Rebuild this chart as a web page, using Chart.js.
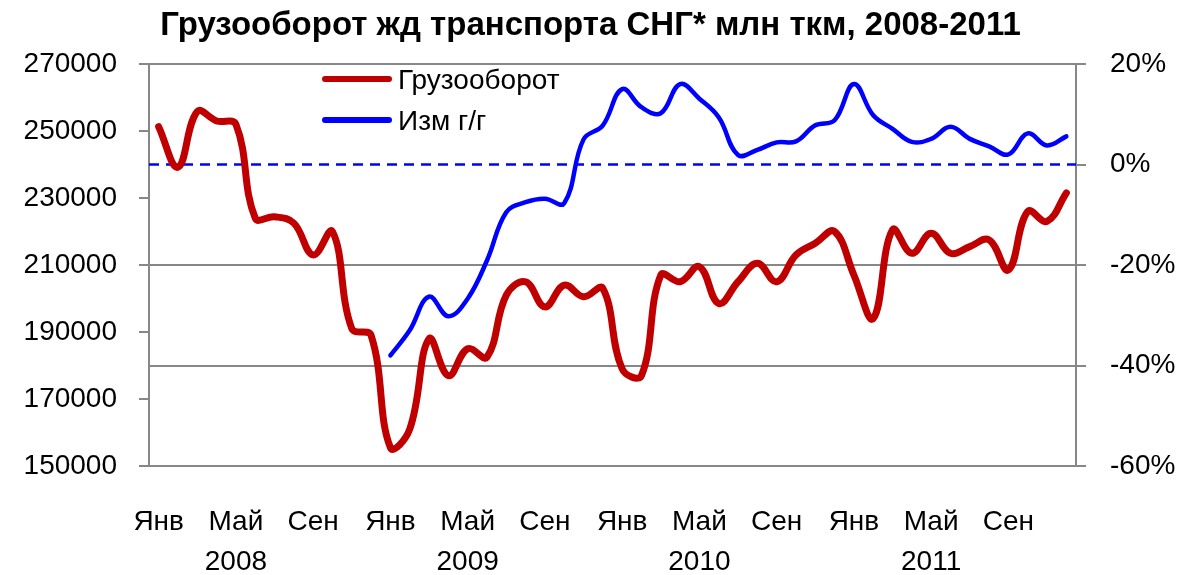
<!DOCTYPE html>
<html>
<head>
<meta charset="utf-8">
<script src="https://cdn.jsdelivr.net/npm/chart.js@4"></script>
<style>
  body { margin: 0; background: #fff; }
  #wrap { width: 1181px; height: 575px; }
</style>
</head>
<body>
<div id="wrap"><canvas id="myChart_Freight" width="1181" height="575"></canvas></div>
<script>
const monthNames = ["Янв", "Фев", "Мар", "Апр", "Май", "Июн", "Июл", "Авг", "Сен", "Окт", "Ноя", "Дек"]
const years = ["2008", "2009", "2010", "2011"]

// грузооборот, млн ткм (левая ось)
const freight = [
  251300, 239200, 255800, 253000, 252000, 224000, 224400, 222500, 213000, 220000, 191000, 189000,
  155500, 161000, 188000, 177000, 185000, 182500, 201000, 205000, 197500, 204000, 200500, 203000,
  179000, 177000, 207000, 205000, 209500, 198500, 205000, 210500, 205000, 213000, 216500, 220000,
  207000, 194000, 220500, 213500, 219500, 213500, 215500, 217500, 208500, 226000, 223000, 231500
]

// изменение г/г, % (правая ось)
const yoyChange = [
  null, null, null, null, null, null, null, null, null, null, null, null,
  -38, -33, -26.3, -30.2, -26.7, -19.1, -9.5, -7.5, -6.8, -7.7, 5, 7.8,
  15.0, 11.4, 10.2, 16.0, 13.1, 9.4, 1.9, 2.9, 4.4, 4.6, 7.8, 8.8,
  16.0, 9.8, 7.1, 4.5, 5.1, 7.5, 5.1, 3.6, 2.0, 6.2, 3.8, 5.6
]

const leftTicks = [150000, 170000, 190000, 210000, 230000, 250000, 270000]
const rightTicks = [-60, -40, -20, 0, 20]

const categories = years.flatMap(y => monthNames.map(m => m + " " + y))

const FONT = "'Liberation Sans', Arial, sans-serif"
const GRAY = "#878787"

const zeroLine = {
  id: "zeroLine",
  beforeDatasetsDraw(chart) {
    const { ctx, chartArea, scales } = chart
    const y = scales.y1.getPixelForValue(0)
    ctx.save()
    ctx.strokeStyle = "#0000ff"
    ctx.lineWidth = 2.5
    ctx.setLineDash([10, 7])
    ctx.beginPath()
    ctx.moveTo(chartArea.left, y)
    ctx.lineTo(chartArea.right, y)
    ctx.stroke()
    ctx.restore()
  }
}

// легенда внутри области построения
const innerLegend = {
  id: "innerLegend",
  afterDraw(chart) {
    const { ctx } = chart
    const rows = [79, 120]
    ctx.save()
    ctx.font = "28px " + FONT
    ctx.textBaseline = "middle"
    chart.data.datasets.forEach((ds, i) => {
      ctx.strokeStyle = ds.borderColor
      ctx.lineWidth = 6
      ctx.lineCap = "round"
      ctx.beginPath()
      ctx.moveTo(325, rows[i])
      ctx.lineTo(389, rows[i])
      ctx.stroke()
      ctx.fillStyle = "#000"
      ctx.fillText(ds.label, 398, rows[i] + 2)
    })
    ctx.restore()
  }
}

const freightGraph = () => {
  new Chart(document.getElementById("myChart_Freight"), {
    type: "line",
    data: {
      labels: categories,
      datasets: [
        {
          label: "Грузооборот",
          data: freight,
          yAxisID: "y",
          borderColor: "#c00000",
          borderWidth: 7,
          tension: 0.4,
          pointRadius: 0,
          borderCapStyle: "round",
          borderJoinStyle: "round",
        },
        {
          label: "Изм г/г",
          data: yoyChange,
          yAxisID: "y1",
          borderColor: "#0000ff",
          borderWidth: 4.5,
          tension: 0.4,
          pointRadius: 0,
          borderCapStyle: "round",
          borderJoinStyle: "round",
        },
      ],
    },
    options: {
      responsive: false,
      animation: false,
      layout: { padding: 0 },
      plugins: {
        legend: { display: false },
        tooltip: { enabled: false },
        title: {
          display: true,
          text: "Грузооборот жд транспорта СНГ* млн ткм, 2008-2011",
          color: "#000",
          font: { family: FONT, size: 33, weight: "bold", lineHeight: 1.2 },
          padding: { top: 6, bottom: 18.4 },
        },
      },
      scales: {
        x: {
          offset: true,
          grid: { display: false, drawTicks: false },
          border: { display: true, color: GRAY, width: 2 },
          ticks: {
            autoSkip: false,
            maxRotation: 0,
            padding: 36,
            color: "#000",
            font: { family: FONT, size: 28, lineHeight: 1.43 },
            callback: (val, i) => {
              if (i % 4 !== 0) return ""
              const m = monthNames[i % 12]
              return i % 12 === 4 ? [m, years[Math.floor(i / 12)]] : m
            },
          },
          afterFit: s => { s.height = 109 },
        },
        y: {
          position: "left",
          min: leftTicks[0],
          max: leftTicks[leftTicks.length - 1],
          ticks: {
            stepSize: leftTicks[1] - leftTicks[0],
            padding: 22,
            color: "#000",
            font: { family: FONT, size: 28 },
            callback: v => String(v),
          },
          grid: { drawOnChartArea: false, tickLength: 10, color: GRAY, lineWidth: 2 },
          border: { color: GRAY, width: 2 },
          afterFit: s => { s.width = 149 },
        },
        y1: {
          position: "right",
          min: rightTicks[0],
          max: rightTicks[rightTicks.length - 1],
          ticks: {
            stepSize: rightTicks[1] - rightTicks[0],
            padding: 24,
            color: "#000",
            font: { family: FONT, size: 28 },
            callback: v => v + "%",
          },
          grid: {
            drawOnChartArea: true,
            tickLength: 10,
            lineWidth: 2,
            color: c => (c.tick && c.tick.value === 0 ? "rgba(0,0,0,0)" : GRAY),
            tickColor: GRAY,
          },
          border: { color: GRAY, width: 2 },
          afterFit: s => { s.width = 105 },
        },
      },
    },
    plugins: [zeroLine, innerLegend],
  })
}

window.addEventListener("load", freightGraph)
</script>
</body>
</html>
